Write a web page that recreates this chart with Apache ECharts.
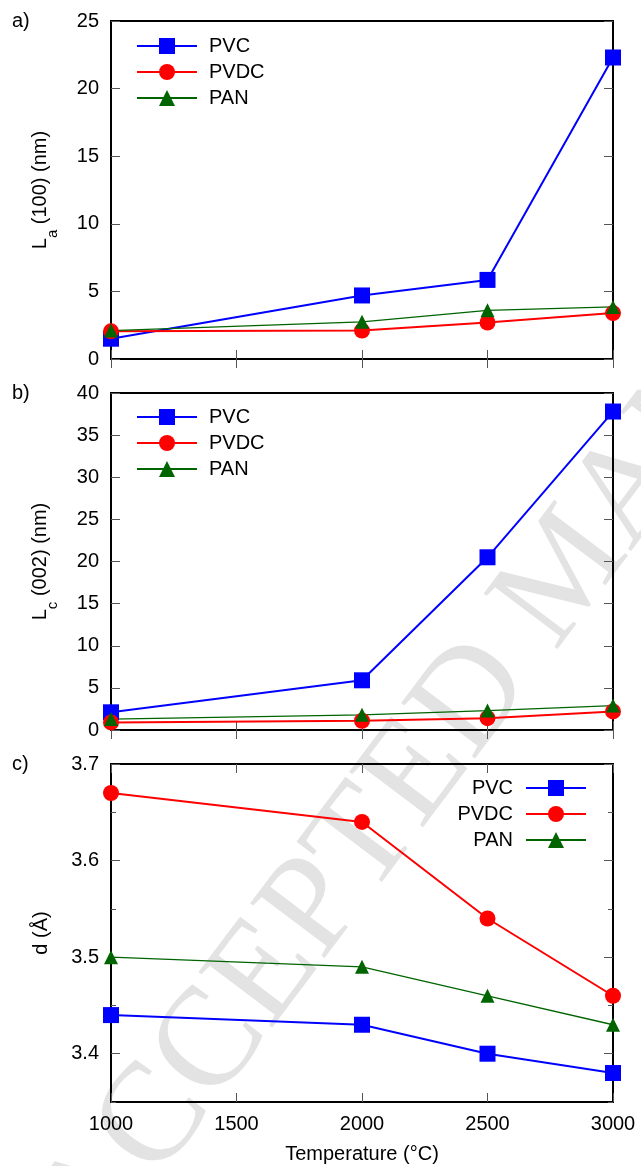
<!DOCTYPE html>
<html><head><meta charset="utf-8">
<script src="https://cdn.jsdelivr.net/npm/echarts@6/dist/echarts.min.js"></script>
<style>html,body{margin:0;padding:0;background:#fff}#c{width:641px;height:1166px}</style>
</head><body><div id="c"></div>
<script>
// ---- data ----
const temps = [1000, 2000, 2500, 3000];
const seriesNames = ['PVC', 'PVDC', 'PAN'];
const pvcLa = [1.5, 4.7, 5.85, 22.3];
const pvdcLa = [2.05, 2.1, 2.7, 3.4];
const panLa = [2.1, 2.75, 3.6, 3.85];
const pvcLc = [2.1, 5.9, 20.5, 37.8];
const pvdcLc = [0.9, 1.1, 1.4, 2.2];
const panLc = [1.3, 1.8, 2.3, 2.9];
const pvcD = [3.44, 3.43, 3.40, 3.38];
const pvdcD = [3.67, 3.64, 3.54, 3.46];
const panD = [3.50, 3.49, 3.46, 3.43];
const xRange = [1000, 3000, 500];
const laRange = [0, 25, 5];
const lcRange = [0, 40, 5];
const dRange = [3.35, 3.7];
const dMajorTicks = [3.4, 3.5, 3.6, 3.7];
const dMinorTicks = [3.35, 3.45, 3.55, 3.65];
const panelLabels = ['a)', 'b)', 'c)'];

// ---- styling ----
const FONT = '"Liberation Sans", Arial, Helvetica, sans-serif';
const TICK = '#555';
const colors = {PVC: '#0000ff', PVDC: '#ff0000', PAN: '#006400'};
const symbols = {PVC: 'rect', PVDC: 'circle', PAN: 'triangle'};
const symSize = {PVC: 16, PVDC: 16, PAN: 14};
const lw = {PVC: 2, PVDC: 2, PAN: 1.3};
const grids = [
  {left: 111, right: 28, top: 21, height: 338},
  {left: 111, right: 28, top: 393, height: 337},
  {left: 111, right: 28, top: 764, height: 338}
];
const labelStyle = {fontSize: 20, color: '#000', fontFamily: FONT};

function xAxes(gi, showLabels) {
  const base = {
    gridIndex: gi, type: 'value', min: xRange[0], max: xRange[1], interval: xRange[2],
    axisLine: {show: false}, splitLine: {show: false},
    axisTick: {show: true, inside: true, length: 9, lineStyle: {color: TICK, width: 1}}
  };
  const bottom = Object.assign({}, base, {
    position: 'bottom',
    axisLabel: Object.assign({show: showLabels, margin: 12, formatter: v => String(v)}, labelStyle)
  });
  if (showLabels) {
    bottom.name = 'Temperature (°C)';
    bottom.nameLocation = 'middle';
    bottom.nameGap = 42;
    bottom.nameTextStyle = Object.assign({}, labelStyle);
  }
  const top = Object.assign({}, base, {position: 'top', axisLabel: {show: false}});
  return [bottom, top];
}
function yAxesLin(gi, range, name) {
  const base = {
    gridIndex: gi, type: 'value', min: range[0], max: range[1], interval: range[2],
    axisLine: {show: false}, splitLine: {show: false},
    axisTick: {show: true, inside: true, length: 9, lineStyle: {color: TICK, width: 1}}
  };
  const left = Object.assign({}, base, {
    position: 'left',
    axisLabel: Object.assign({margin: 12}, labelStyle),
    name: name, nameLocation: 'middle', nameGap: 51,
    nameTextStyle: Object.assign({}, labelStyle, {
      rich: {
        n: {fontSize: 20, lineHeight: 20, verticalAlign: 'top', color: '#000', fontFamily: FONT},
        s: {fontSize: 15, lineHeight: 30, verticalAlign: 'bottom', color: '#000', fontFamily: FONT}
      }
    })
  });
  const right = Object.assign({}, base, {position: 'right', axisLabel: {show: false}});
  return [left, right];
}
function yAxesD(gi) {
  const mk = (pos, vals, len, labels) => ({
    gridIndex: gi, type: 'value', min: dRange[0], max: dRange[1], position: pos,
    axisLine: {show: false}, splitLine: {show: false},
    axisTick: {show: true, inside: true, length: len, customValues: vals, lineStyle: {color: TICK, width: 1}},
    axisLabel: labels ? Object.assign({margin: 12, customValues: vals, formatter: v => v.toFixed(1)}, labelStyle) : {show: false}
  });
  const left = mk('left', dMajorTicks, 9, true);
  left.name = 'd (Å)';
  left.nameLocation = 'middle';
  left.nameGap = 60;
  left.nameTextStyle = Object.assign({}, labelStyle);
  return [left, mk('left', dMinorTicks, 5, false), mk('right', dMajorTicks, 9, false), mk('right', dMinorTicks, 5, false)];
}

const xAxis = [].concat(xAxes(0, false), xAxes(1, false), xAxes(2, true));
const yAxis = [].concat(
  yAxesLin(0, laRange, '{n|L}{s|a}{n| (100) (nm)}'),
  yAxesLin(1, lcRange, '{n|L}{s|c}{n| (002) (nm)}'),
  yAxesD(2)
);

function mkSeries(name, vals, gi, yi) {
  return {
    name: name, type: 'line', xAxisIndex: gi * 2, yAxisIndex: yi,
    data: temps.map((t, i) => [t, vals[i]]),
    symbol: symbols[name], symbolSize: symSize[name], showSymbol: true, clip: false,
    lineStyle: {color: colors[name], width: lw[name]},
    itemStyle: {color: colors[name]},
    emphasis: {disabled: true}
  };
}
const series = [
  mkSeries('PVC', pvcLa, 0, 0), mkSeries('PVDC', pvdcLa, 0, 0), mkSeries('PAN', panLa, 0, 0),
  mkSeries('PVC', pvcLc, 1, 2), mkSeries('PVDC', pvdcLc, 1, 2), mkSeries('PAN', panLc, 1, 2),
  mkSeries('PVC', pvcD, 2, 4), mkSeries('PVDC', pvdcD, 2, 4), mkSeries('PAN', panD, 2, 4)
];

const legendBase = {
  data: seriesNames, orient: 'vertical', itemWidth: 60, itemHeight: 20, itemGap: 6,
  padding: 0, selectedMode: false
};
const legend = [
  Object.assign({}, legendBase, {left: 136, top: 36, textStyle: Object.assign({padding: [0, 0, 0, 7]}, labelStyle)}),
  Object.assign({}, legendBase, {left: 136, top: 407, textStyle: Object.assign({padding: [0, 0, 0, 7]}, labelStyle)}),
  Object.assign({}, legendBase, {right: 54, top: 778, align: 'right', textStyle: Object.assign({padding: [0, 8, 0, 0]}, labelStyle)})
];

const graphic = [
  {type: 'text', x: 569, y: 572, rotation: 53 * Math.PI / 180, z: -10, silent: true,
   style: {text: 'ACCEPTED MANUSCRIPT', font: '141px "Liberation Serif", "Times New Roman", serif',
           fill: '#e3e3e3', align: 'center', verticalAlign: 'middle'}}
].concat(panelLabels.map((t, i) => ({
  type: 'text', x: 12, y: grids[i].top, silent: true,
  style: {text: t, font: '20px ' + FONT, fill: '#000', align: 'left', verticalAlign: 'middle'}
})));

const chart = echarts.init(document.getElementById('c'), null, {renderer: 'canvas'});
chart.setOption({
  animation: false,
  backgroundColor: '#fff',
  grid: grids.map(g => Object.assign({show: true, borderColor: '#000', borderWidth: 2, backgroundColor: 'transparent'}, g)),
  xAxis: xAxis, yAxis: yAxis, series: series, legend: legend, graphic: graphic
});
</script></body></html>
